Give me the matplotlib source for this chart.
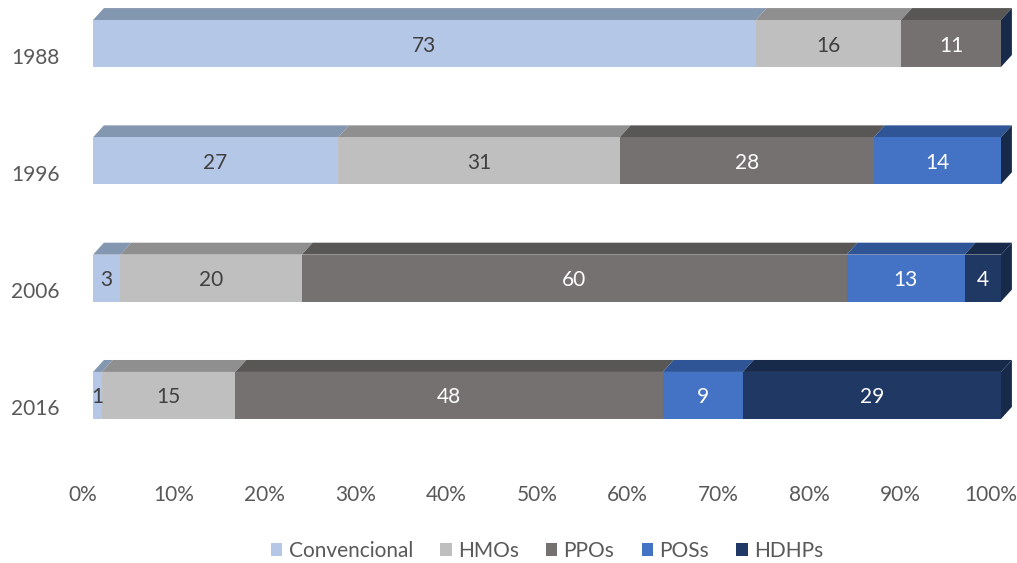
import matplotlib
matplotlib.use("Agg")
import matplotlib.pyplot as plt
from matplotlib.patches import Polygon, Rectangle
from matplotlib.transforms import ScaledTranslation
import numpy as np

plt.rcParams['font.family'] = ['Lato', 'DejaVu Sans']

years = ["1988", "1996", "2006", "2016"]
series = ["Convencional", "HMOs", "PPOs", "POSs", "HDHPs"]
convencional = [73, 27, 3, 1]
hmos = [16, 31, 20, 15]
ppos = [11, 28, 60, 48]
poss = [0, 14, 13, 9]
hdhps = [0, 0, 4, 29]

front_colors = ["#B4C7E7", "#BFBFBF", "#767171", "#4472C4", "#203864"]
top_colors = ["#8497B0", "#8F8F8F", "#595656", "#2F5597", "#172A4A"]
label_colors = ["#404040", "#404040", "white", "white", "white"]

W, H = 1017, 563
fig = plt.figure(figsize=(W / 100, H / 100), dpi=100)

# axes: front faces span 0-100 %, bar pitch ~117 px
left_px, right_px = 93, 1001
ax_top_px, ax_bot_px = 0, 470
ax = fig.add_axes([left_px / W, (H - ax_bot_px) / H, (right_px - left_px) / W,
                   (ax_bot_px - ax_top_px) / H])
pitch = 117.3
c0 = 43.5
ax.set_xlim(0, 100)
ax.set_ylim((ax_bot_px - c0) / pitch, (ax_top_px - c0) / pitch)

half = 0.2          # half height of the front face
dx = 1.2            # depth offset (x, percent units)
dy = 0.102          # depth offset (y, data units)

data = np.array([convencional, hmos, ppos, poss, hdhps], dtype=float)
totals = data.sum(axis=0)
label_shift = ScaledTranslation(0, -0.02, fig.dpi_scale_trans)

for i, yr in enumerate(years):
    y = i
    start = 0.0
    for s in range(len(series)):
        v = data[s, i]
        w = v / totals[i] * 100
        if w <= 0:
            continue
        ax.add_patch(Rectangle((start, y - half), w, 2 * half,
                               facecolor=front_colors[s], edgecolor='none',
                               zorder=2))
        top = [(start, y - half), (start + w, y - half),
               (start + w + dx, y - half - dy), (start + dx, y - half - dy)]
        ax.add_patch(Polygon(top, closed=True, facecolor=top_colors[s],
                             edgecolor='none', zorder=1, clip_on=False))
        ax.text(start + w / 2, y, f"{int(v)}", ha='center', va='center',
                fontsize=15, color=label_colors[s], zorder=4,
                transform=ax.transData + label_shift)
        start += w
    side = [(100, y - half), (100, y + half), (100 + dx, y + half - dy),
            (100 + dx, y - half - dy)]
    ax.add_patch(Polygon(side, closed=True, facecolor=top_colors[-1],
                         edgecolor='none', zorder=3, clip_on=False))

ax.set_xticks(np.arange(0, 101, 10))
ax.set_xticklabels([f"{t}%" for t in range(0, 101, 10)])
ax.set_yticks(range(len(years)))
ax.set_yticklabels(years)
ax.tick_params(axis='both', length=0, labelsize=15, labelcolor='#595959')
ax.tick_params(axis='x', pad=0)
ax.tick_params(axis='y', pad=24)
for lab in ax.get_xticklabels():
    lab.set_transform(lab.get_transform() + ScaledTranslation(-0.10, -0.15, fig.dpi_scale_trans))
for lab in ax.get_yticklabels():
    lab.set_transform(lab.get_transform() + ScaledTranslation(0, -0.12, fig.dpi_scale_trans))
for sp in ax.spines.values():
    sp.set_visible(False)

handles = [Rectangle((0, 0), 1, 1, facecolor=c, edgecolor='none') for c in front_colors]
leg = fig.legend(handles, series, loc='center', bbox_to_anchor=(547 / W, 1 - 551 / H),
                 ncol=5, frameon=False, fontsize=15, handlelength=0.55,
                 handleheight=0.55, handletextpad=0.3, columnspacing=1.3,
                 borderpad=0)
for t in leg.get_texts():
    t.set_color('#595959')

fig.savefig("out.png", dpi=100)
